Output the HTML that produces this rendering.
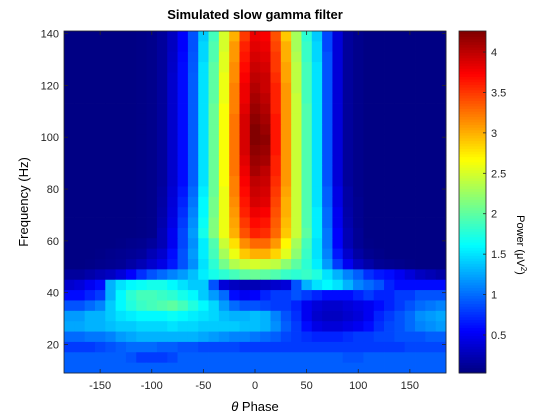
<!DOCTYPE html>
<html><head><meta charset="utf-8"><style>
body{margin:0;background:#fff;}
svg{display:block;font-family:"Liberation Sans",sans-serif;}
</style></head><body>
<svg id="chart" width="560" height="420" viewBox="0 0 560 420">
<rect width="560" height="420" fill="#fff"/>
<g id="cells"></g>
<g id="axes"></g>
<text x="255" y="19" text-anchor="middle" font-size="13" font-weight="bold">Simulated slow gamma filter</text>
<text x="255" y="411" text-anchor="middle" font-size="13"><tspan font-style="italic">θ</tspan> Phase</text>
<text transform="translate(28,202) rotate(-90)" text-anchor="middle" font-size="13">Frequency (Hz)</text>
<text transform="translate(517,245) rotate(90)" text-anchor="middle" font-size="11">Power (μV<tspan dy="-4" font-size="8">2</tspan><tspan dy="4">)</tspan></text>
</svg>
<script>
const phases = [-180,-170,-160,-150,-140,-130,-120,-110,-100,-90,-80,-70,-60,-50,-40,-30,-20,-10,0,10,20,30,40,50,60,70,80,90,100,110,120,130,140,150,160,170,180];
const freqs = [139,135,131,127,123,119,115,111,107,103,99,95,91,87,83,79,75,71,67,63,59,55,51,47,43,39,35,31,27,23,19,15,11];
const xTicks = [-150,-100,-50,0,50,100,150];
const yTicks = [20,40,60,80,100,120,140];
const cTicks = [0.5,1,1.5,2,2.5,3,3.5,4];
const cRange = [0.03,4.26];
const L = "0.05,0.05,0.05,0.05,0.05,0.05,0.05,0.06,0.08,";
const R = ",0.05,0.05,0.05,0.05,0.05,0.05,0.05,0.05";
const powerRows = [
 L+".15,.3,.55,.9,1.4,1.9,2.5,3.0,3.5,3.8,3.75,3.4,2.9,2.3,1.8,1.4,.85,.4,.15,.08"+R,
 L+".15,.3,.55,.9,1.45,1.95,2.5,3.1,3.6,3.85,3.8,3.45,3.0,2.3,1.85,1.45,.85,.4,.15,.08"+R,
 L+".15,.32,.58,.92,1.45,1.95,2.55,3.1,3.65,3.9,3.85,3.5,3.0,2.35,1.85,1.45,.9,.4,.15,.08"+R,
 L+".15,.33,.6,.93,1.5,2.0,2.55,3.15,3.7,3.95,3.9,3.5,3.05,2.4,1.9,1.5,.9,.4,.15,.08"+R,
 L+".15,.35,.6,.95,1.5,2.0,2.6,3.15,3.75,4.0,3.95,3.55,3.05,2.4,1.9,1.5,.9,.4,.15,.08"+R,
 L+".15,.35,.6,.95,1.5,2.0,2.6,3.2,3.8,4.05,3.95,3.6,3.1,2.4,1.9,1.5,.9,.4,.15,.08"+R,
 L+".15,.35,.6,.95,1.5,2.0,2.6,3.2,3.8,4.1,4.0,3.6,3.1,2.45,1.9,1.5,.9,.4,.15,.08"+R,
 L+".15,.35,.6,.95,1.5,2.05,2.65,3.2,3.85,4.15,4.05,3.6,3.1,2.45,1.95,1.5,.9,.4,.15,.08"+R,
 L+".15,.35,.6,.95,1.5,2.05,2.65,3.25,3.9,4.2,4.1,3.65,3.1,2.45,1.95,1.5,.9,.4,.15,.08"+R,
 L+".15,.35,.6,.95,1.5,2.05,2.65,3.25,3.9,4.25,4.15,3.65,3.1,2.45,1.95,1.5,.9,.4,.15,.08"+R,
 L+".15,.35,.6,.95,1.5,2.05,2.65,3.25,3.9,4.25,4.2,3.65,3.1,2.45,1.95,1.5,.9,.4,.15,.08"+R,
 L+".15,.35,.6,.95,1.5,2.05,2.65,3.25,3.9,4.2,4.15,3.65,3.1,2.45,1.95,1.5,.9,.4,.15,.08"+R,
 L+".15,.35,.6,.95,1.5,2.05,2.65,3.25,3.85,4.15,4.1,3.6,3.1,2.45,1.95,1.5,.9,.4,.15,.08"+R,
 L+".15,.35,.6,.95,1.5,2.05,2.65,3.25,3.8,4.1,4.0,3.6,3.1,2.45,1.95,1.5,.9,.4,.15,.08"+R,
 L+".15,.35,.6,.95,1.5,2.05,2.65,3.2,3.75,4.0,3.95,3.55,3.1,2.45,1.95,1.5,.9,.4,.15,.08"+R,
 L+".17,.38,.65,1.0,1.55,2.05,2.6,3.2,3.7,3.95,3.9,3.5,3.05,2.45,1.95,1.5,.95,.45,.18,.08"+R,
 L+".18,.4,.7,1.05,1.6,2.1,2.6,3.15,3.65,3.9,3.85,3.45,3.0,2.45,1.95,1.5,.95,.45,.18,.1"+R,
 L+".2,.42,.75,1.1,1.6,2.1,2.6,3.1,3.6,3.8,3.75,3.4,3.0,2.45,1.95,1.55,1.0,.5,.2,.1"+R,
 L+".22,.45,.8,1.15,1.65,2.15,2.6,3.05,3.5,3.7,3.65,3.35,2.95,2.45,1.95,1.55,1.0,.5,.22,.1"+R,
 L+".25,.5,.85,1.2,1.7,2.15,2.6,3.0,3.4,3.6,3.55,3.3,2.9,2.45,2.0,1.55,1.05,.55,.25,.12"+R,
 "0.05,0.05,0.05,0.05,0.05,0.06,0.08,0.1,0.15,.25,.5,.85,1.15,1.55,1.95,2.45,2.8,3.15,3.3,3.3,3.1,2.7,2.3,1.9,1.5,1.05,.55,.25,.12,.06,.05,.05,.05,.05,.05,.05,.05",
 "0.05,0.05,0.05,0.06,0.08,0.1,0.12,0.15,0.25,.35,.6,.9,1.2,1.55,1.9,2.3,2.6,2.9,3.0,3.0,2.85,2.55,2.2,1.85,1.5,1.1,.65,.35,.18,.1,.07,.05,.05,.05,.05,.05,.05",
 "0.05,0.05,0.06,0.08,0.1,0.12,0.18,0.25,0.35,.45,.65,.9,1.15,1.5,1.8,2.1,2.35,2.45,2.5,2.45,2.4,2.2,2.0,1.8,1.55,1.2,.8,.5,.3,.2,.12,.1,.08,.06,.05,.05,.05",
 "0.15,0.15,0.2,0.25,0.3,0.4,0.55,0.75,0.9,1.0,1.1,1.2,1.35,1.55,1.7,1.8,1.9,2.0,2.05,2.0,1.95,1.85,1.8,1.85,1.75,1.5,1.3,1.1,.95,.75,.65,.6,.5,.4,.3,.25,.2",
 "0.35,0.4,0.5,0.6,1.3,1.5,1.6,1.65,1.7,1.7,1.6,1.5,1.4,1.4,.9,.4,.3,.25,.25,.3,.35,.4,.9,1.3,1.5,1.6,1.5,1.3,1.1,1.0,.9,.7,.6,.6,.6,.6,.6",
 "0.6,0.6,0.7,0.8,1.3,1.6,1.8,1.9,1.9,1.85,1.8,1.7,1.6,1.4,1.2,1.0,.6,.5,.55,.7,.8,.8,.9,.8,.7,.6,.6,.6,.7,.8,.7,.7,.8,.8,.9,.9,.9",
 "0.9,0.9,1.0,1.1,1.4,1.6,1.75,1.85,1.9,1.95,2.0,1.9,1.75,1.6,1.45,1.2,1.0,.9,.9,.85,.8,.8,.7,.5,.4,.35,.35,.4,.45,.5,.6,.7,.8,.9,1.0,1.05,1.1",
 "1.2,1.2,1.3,1.3,1.4,1.5,1.55,1.6,1.6,1.6,1.65,1.6,1.55,1.5,1.45,1.35,1.3,1.3,1.35,1.3,1.1,.9,.75,.5,.35,.3,.3,.35,.4,.5,.7,.8,.9,1.0,1.15,1.2,1.25",
 "1.25,1.25,1.3,1.3,1.35,1.4,1.4,1.45,1.45,1.45,1.5,1.45,1.45,1.4,1.4,1.4,1.4,1.35,1.35,1.3,1.15,.95,.8,.6,.45,.4,.4,.45,.5,.6,.75,.85,.9,1.0,1.1,1.15,1.2",
 "1.0,1.0,1.05,1.05,1.1,1.2,1.25,1.3,1.3,1.3,1.3,1.3,1.3,1.25,1.2,1.15,1.1,1.1,1.05,1.0,.95,.85,.8,.75,.7,.7,.7,.75,.8,.8,.85,.85,.9,.9,.9,.95,.95",
 "0.8,0.8,0.8,0.85,0.9,0.95,1.0,1.0,1.0,0.95,0.95,0.9,0.9,0.85,0.85,0.85,0.85,0.8,0.8,0.8,0.8,0.8,0.8,0.8,0.8,0.8,0.8,0.8,0.8,0.8,0.8,0.8,0.8,0.85,0.85,0.85,0.85",
 "0.95,0.95,0.95,0.95,0.95,0.95,0.9,0.8,0.8,0.8,0.85,0.95,0.95,0.95,0.95,0.95,0.95,0.95,0.95,0.95,0.95,0.95,0.95,0.95,0.95,0.95,0.95,0.9,0.9,0.95,0.95,0.95,0.95,0.95,0.95,0.95,0.95",
 "0.95,0.95,0.95,0.95,0.95,0.95,0.95,0.95,0.95,0.95,0.95,0.95,0.95,0.95,0.95,0.95,0.95,0.95,0.95,0.95,0.95,0.95,0.95,0.95,0.95,0.95,0.95,0.95,0.95,0.95,0.95,0.95,0.95,0.95,0.95,0.95,0.95"
];
const power = powerRows.map(r => r.split(',').map(Number));

const X0=64, X1=446, Y0=373, Y1=31;
const xDom=[-185,185], yDom=[9,141];
const xs = v => X0 + (v - xDom[0]) / (xDom[1]-xDom[0]) * (X1-X0);
const ys = v => Y0 - (v - yDom[0]) / (yDom[1]-yDom[0]) * (Y0-Y1);
const CB={x0:459,x1:486};
const cs = v => Y0 - (v - cRange[0]) / (cRange[1]-cRange[0]) * (Y0-Y1);
function clamp(v){return Math.max(0,Math.min(1,v));}
function jet(t){t=clamp(t);
 const r=clamp(1.5-Math.abs(4*t-3)), g=clamp(1.5-Math.abs(4*t-2)), b=clamp(1.5-Math.abs(4*t-1));
 return `rgb(${Math.round(r*255)},${Math.round(g*255)},${Math.round(b*255)})`;}
const NS="http://www.w3.org/2000/svg";
function mk(tag,attrs,parent){const e=document.createElementNS(NS,tag);for(const k in attrs)e.setAttribute(k,attrs[k]);parent.appendChild(e);return e;}
const cells=document.getElementById('cells');
freqs.forEach((f,ri)=>{
 phases.forEach((p,ci)=>{
  const v=power[ri][ci];
  const x=xs(p-5), x2=xs(p+5), y=ys(f+2), y2=ys(f-2);
  const r=mk('rect',{x:x.toFixed(2),y:y.toFixed(2),width:(x2-x+0.4).toFixed(2),height:(y2-y+0.4).toFixed(2),fill:jet((v-cRange[0])/(cRange[1]-cRange[0]))},cells);
  
  
 });
});
const axes=document.getElementById('axes');
const frame=mk('rect',{x:X0,y:Y1,width:X1-X0,height:Y0-Y1,fill:'none',stroke:'#262626','stroke-width':0.8},axes);


xTicks.forEach(t=>{
 const x=xs(t);
 mk('line',{x1:x,x2:x,y1:Y0,y2:Y0-4,stroke:'#262626','stroke-width':0.8},axes);
 mk('line',{x1:x,x2:x,y1:Y1,y2:Y1+4,stroke:'#262626','stroke-width':0.8},axes);
 const tx=mk('text',{x:x,y:Y0+16,'text-anchor':'middle','font-size':11,fill:'#262626'},axes);
 tx.textContent=t;
 
 
});
yTicks.forEach(t=>{
 const y=ys(t);
 mk('line',{x1:X0,x2:X0+4,y1:y,y2:y,stroke:'#262626','stroke-width':0.8},axes);
 mk('line',{x1:X1,x2:X1-4,y1:y,y2:y,stroke:'#262626','stroke-width':0.8},axes);
 const tx=mk('text',{x:X0-5,y:y+4,'text-anchor':'end','font-size':11,fill:'#262626'},axes);
 tx.textContent=t;
 
 
});
const cb=mk('g',{},axes);


for(let i=0;i<128;i++){
 const v0=cRange[0]+(cRange[1]-cRange[0])*i/128, v1=cRange[0]+(cRange[1]-cRange[0])*(i+1)/128;
 mk('rect',{x:CB.x0,y:cs(v1),width:CB.x1-CB.x0,height:cs(v0)-cs(v1)+0.5,fill:jet((i+0.5)/128)},cb);
}
mk('rect',{x:CB.x0,y:Y1,width:CB.x1-CB.x0,height:Y0-Y1,fill:'none',stroke:'#262626','stroke-width':0.8},cb);
cTicks.forEach(t=>{
 const y=cs(t);
 mk('line',{x1:CB.x1,x2:CB.x1-3,y1:y,y2:y,stroke:'#262626','stroke-width':0.8},cb);
 const tx=mk('text',{x:CB.x1+5,y:y+4,'font-size':11,fill:'#262626'},cb);
 tx.textContent=t;
 
 
});
</script>
</body></html>
